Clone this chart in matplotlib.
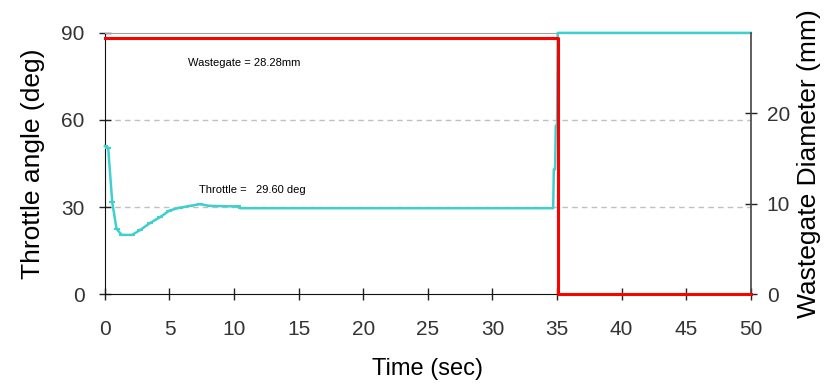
"""
Throttle angle and wastegate diameter versus time.
"""
import matplotlib.pyplot as plt

plt.rcParams["font.family"] = ["Liberation Sans", "DejaVu Sans"]

# throttle response (deg)
time_thr = [0, 0.25, 0.57, 0.9, 1.3, 2.1, 2.7, 3.5, 4.3, 5.0, 5.8, 6.6, 7.35, 8.1,
            10.3, 10.5, 34.7, 34.75, 34.85, 34.9, 35.0, 35.05, 50]
throttle = [51, 50.5, 31.6, 22.5, 20.4, 20.4, 22, 24.5, 26.6, 28.8, 29.8, 30.4, 31.0, 30.4,
            30.2, 29.6, 29.6, 43, 43, 58, 58, 90, 90]

# wastegate diameter (mm)
time_wg = [0, 35.1, 35.1, 50]
wastegate = [28.28, 28.28, 0, 0]

x_ticks = list(range(0, 51, 5))
left_ticks = [0, 30, 60, 90]
right_ticks = [0, 10, 20]

CYAN = "#3fcfcf"
RED = "#ff0000"
TICK_GRAY = "#333333"


def main():
    fig = plt.figure(figsize=(8.26, 3.87), dpi=100)
    ax = fig.add_axes([0.127, 0.240, 0.782, 0.675])
    ax2 = ax.twinx()

    ax.set_xlim(0, 50)
    ax.set_ylim(0, 90)
    ax2.set_ylim(0, 28.9)

    # dashed gridlines on the primary axis
    for v in [30, 60]:
        ax.axhline(v, color="#c0c0c0", lw=1, ls=(0, (4, 3)), zorder=0)

    ax.plot(time_thr, throttle, color=CYAN, lw=1.8, zorder=3, clip_on=False)
    # small dash markers on the early transient
    early = [(t, a) for t, a in zip(time_thr, throttle) if t < 11]
    ax.plot([p[0] for p in early], [p[1] for p in early], ls="none", marker="_",
            ms=5, mew=1.5, color=CYAN, zorder=3)
    # secondary axes sits on top so the red line covers the bottom spine
    ax2.plot(time_wg, wastegate, color=RED, lw=2.2, zorder=3, clip_on=False)
    for s in ("top", "bottom", "left"):
        ax2.spines[s].set_visible(False)

    ax.set_xticks(x_ticks)
    ax.set_yticks(left_ticks)
    ax2.set_yticks(right_ticks)

    for a in (ax, ax2):
        a.tick_params(direction="inout", length=9, width=1, colors="#222222",
                      labelsize=15, labelcolor=TICK_GRAY)
    ax.spines["top"].set_color("#a0a0a0")
    ax.spines["right"].set_visible(False)
    ax.spines["left"].set_color("#111111")
    ax.spines["bottom"].set_color("#111111")
    ax2.spines["right"].set_color("#444444")
    ax2.spines["right"].set_linewidth(1.2)
    ax.tick_params(axis="y", pad=10)
    ax2.tick_params(axis="y", pad=7)
    ax.tick_params(axis="x", pad=14)

    ax.set_xlabel("Time (sec)", fontsize=17, labelpad=14)
    ax.set_ylabel("Throttle angle (deg)", fontsize=19, labelpad=12)
    ax2.set_ylabel("Wastegate Diameter (mm)", fontsize=19, labelpad=5)

    ax.text(6.4, 79.5, "Wastegate = 28.28mm", fontsize=8, va="center")
    ax.text(7.3, 36.0, "Throttle =   29.60 deg", fontsize=8, va="center")

    fig.savefig("out.png", dpi=100)


if __name__ == "__main__":
    main()
